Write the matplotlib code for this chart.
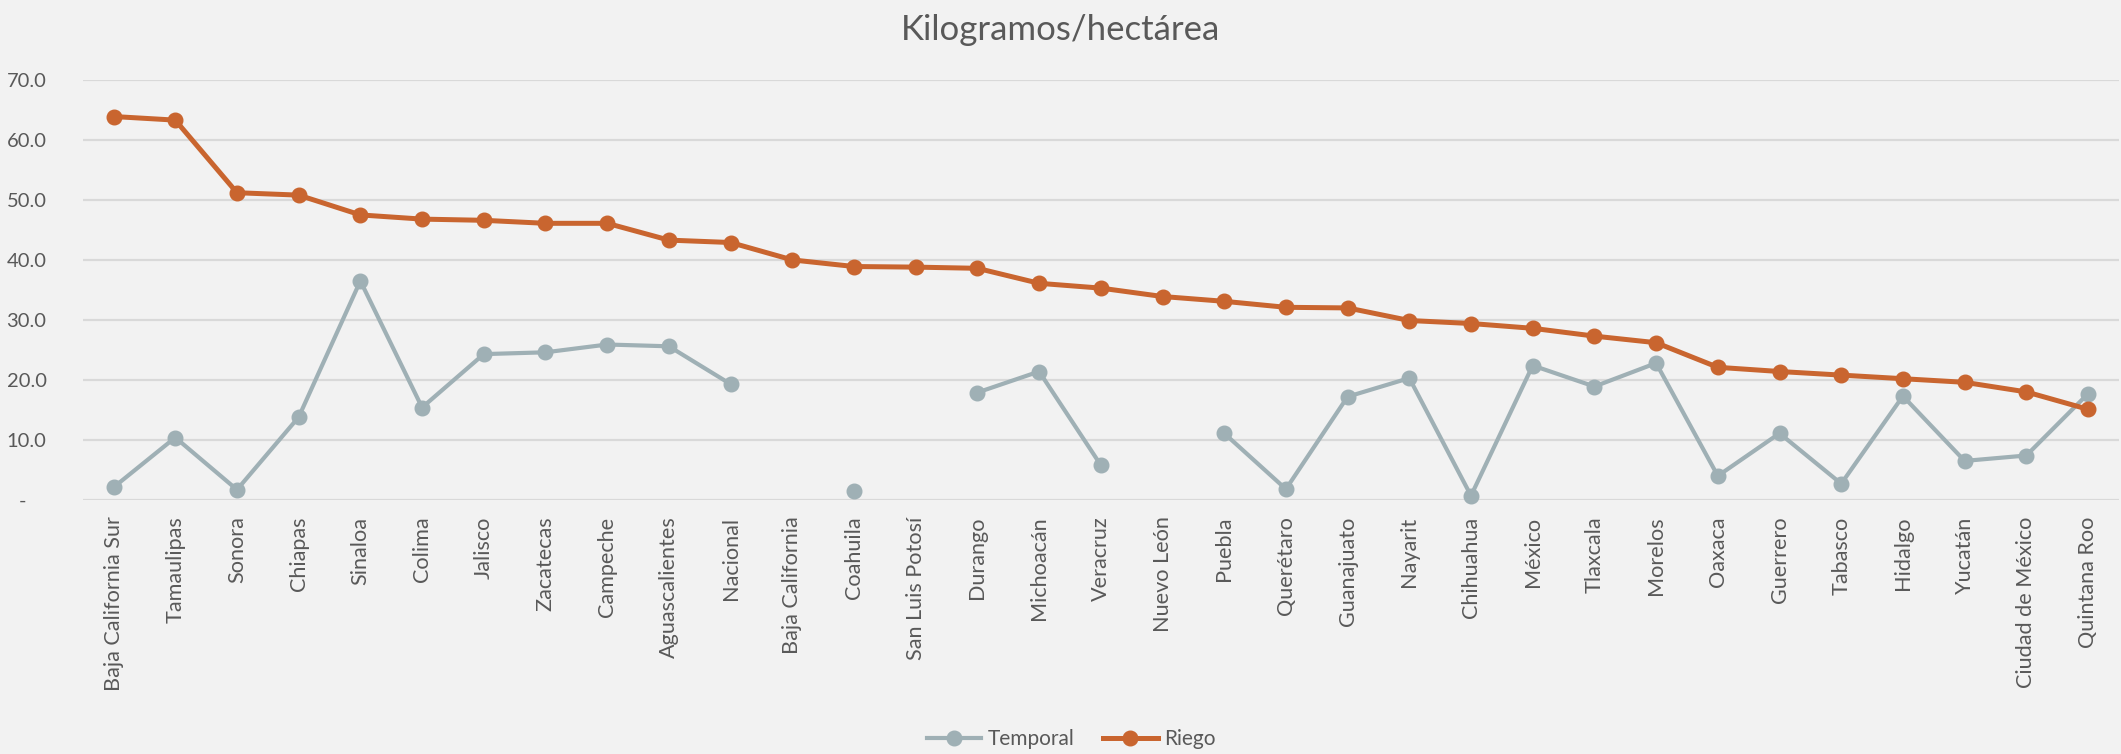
import numpy as np
import matplotlib
matplotlib.use("Agg")
import matplotlib.pyplot as plt
from matplotlib.ticker import FuncFormatter

plt.rcParams['font.family'] = ['Lato', 'DejaVu Sans']

estados = ["Baja California Sur", "Tamaulipas", "Sonora", "Chiapas", "Sinaloa",
           "Colima", "Jalisco", "Zacatecas", "Campeche", "Aguascalientes",
           "Nacional", "Baja California", "Coahuila", "San Luis Potosí",
           "Durango", "Michoacán", "Veracruz", "Nuevo León", "Puebla",
           "Querétaro", "Guanajuato", "Nayarit", "Chihuahua", "México",
           "Tlaxcala", "Morelos", "Oaxaca", "Guerrero", "Tabasco", "Hidalgo",
           "Yucatán", "Ciudad de México", "Quintana Roo"]

riego = [63.9, 63.3, 51.2, 50.8, 47.5, 46.8, 46.6, 46.1, 46.1, 43.3,
         42.9, 40.0, 38.9, 38.8, 38.6, 36.1, 35.3, 33.9, 33.1, 32.1,
         32.0, 29.9, 29.4, 28.6, 27.3, 26.2, 22.1, 21.4, 20.8, 20.2,
         19.6, 18.0, 15.1]

nan = np.nan
temporal = [2.1, 10.4, 1.7, 13.8, 36.5, 15.4, 24.3, 24.6, 25.9, 25.6,
            19.3, nan, 1.5, nan, 17.9, 21.4, 5.8, nan, 11.1, 1.8,
            17.2, 20.3, 0.7, 22.4, 18.9, 22.8, 4.0, 11.1, 2.7, 17.3,
            6.5, 7.4, 17.7]

bg = '#F2F2F2'
txt = '#595959'
c_riego = '#C9652F'
c_temp = '#9FB0B5'

fig = plt.figure(figsize=(21.21, 7.54), dpi=100, facecolor=bg)
ax = fig.add_axes([0.039, 0.337, 0.960, 0.557])
ax.set_facecolor(bg)

x = np.arange(len(estados))
ax.plot(x, temporal, color=c_temp, lw=3.0, marker='o', ms=10.5,
        label='Temporal', clip_on=False, zorder=3)
ax.plot(x, riego, color=c_riego, lw=3.6, marker='o', ms=10.5,
        label='Riego', clip_on=False, zorder=4)

ax.set_xlim(-0.5, len(estados) - 0.5)
ax.set_ylim(0, 70)
ax.set_yticks(np.arange(0, 71, 10))
ax.yaxis.set_major_formatter(FuncFormatter(lambda v, p: '-    ' if v == 0 else f'{v:.1f}'))
ax.grid(axis='y', color='#D9D9D9', lw=1.6, zorder=0)
ax.set_axisbelow(True)
for s in ax.spines.values():
    s.set_visible(False)

ax.set_xticks(x)
ax.set_xticklabels(estados, rotation=90, fontsize=15.6, color=txt)
ax.tick_params(axis='x', length=0, pad=12)
ax.tick_params(axis='y', length=0, pad=26, labelsize=14.5, labelcolor=txt)

fig.suptitle('Kilogramos/hectárea', y=0.982, fontsize=25, color=txt)

fig.legend(loc='lower center', bbox_to_anchor=(0.505, -0.018), ncol=2,
           frameon=False, fontsize=15, labelcolor=txt, handlelength=2.6,
           columnspacing=1.4, handletextpad=0.3)

fig.savefig('out.png', dpi=100, facecolor=bg)
